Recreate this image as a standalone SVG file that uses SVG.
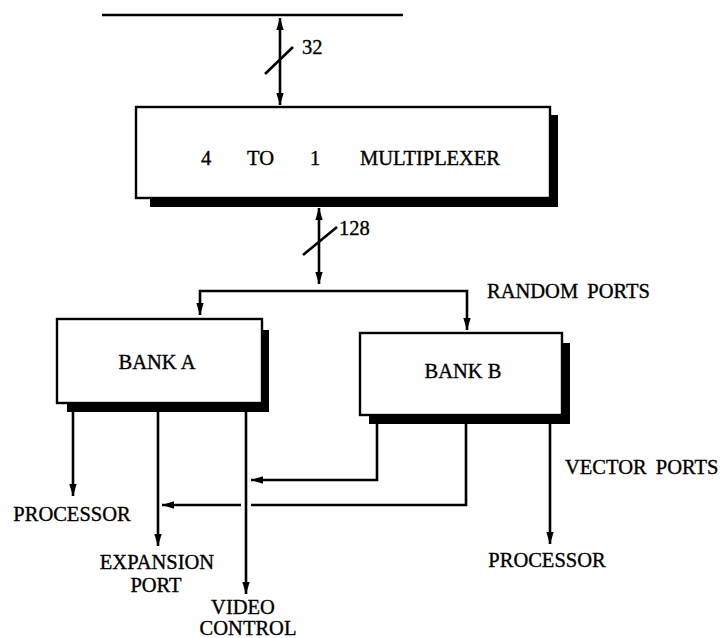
<svg xmlns="http://www.w3.org/2000/svg" width="723" height="638" viewBox="0 0 723 638">
<style>
text{font-family:"Liberation Serif","Times New Roman",serif;font-size:20.5px;fill:#000;stroke:#000;stroke-width:0.35}
.ln{stroke:#000;stroke-width:2.6;fill:none}
.box{fill:#fff;stroke:#000;stroke-width:2.4}
.sh{fill:#000}
</style>
<defs>
<marker id="ah" viewBox="0 0 12 10" refX="12" refY="5" markerWidth="12" markerHeight="10" markerUnits="userSpaceOnUse" orient="auto-start-reverse">
<path d="M0,1.3 L12,5 L0,8.7 z" fill="#000"/>
</marker>
</defs>
<rect width="723" height="638" fill="#fff"/>
<line x1="102" y1="15" x2="403" y2="15" class="ln" stroke-width="3"/>
<g id="mux">
<rect class="sh" x="150" y="115" width="408" height="92"/>
<rect class="box" x="136" y="107" width="414" height="91"/>
<text x="201" y="165">4</text>
<text x="247" y="165">TO</text>
<text x="310" y="165">1</text>
<text x="360" y="165" textLength="140">MULTIPLEXER</text>
</g>
<g id="bankA">
<rect class="sh" x="67" y="330" width="202" height="82"/>
<rect class="box" x="57" y="319" width="205" height="84"/>
<text x="157" y="369" text-anchor="middle">BANK A</text>
</g>
<g id="bankB">
<rect class="sh" x="369" y="343" width="201" height="81"/>
<rect class="box" x="360" y="333" width="202" height="82"/>
<text x="463" y="378" text-anchor="middle">BANK B</text>
</g>
<g id="connectors">
<line class="ln" x1="280" y1="18" x2="280" y2="105" marker-start="url(#ah)" marker-end="url(#ah)"/>
<line class="ln" x1="265" y1="74" x2="293" y2="47"/>
<line class="ln" x1="319" y1="208" x2="319" y2="284" marker-start="url(#ah)" marker-end="url(#ah)"/>
<line class="ln" x1="303" y1="255" x2="337" y2="227"/>
<polyline class="ln" points="200,315 200,291 467,291 467,330" marker-start="url(#ah)" marker-end="url(#ah)"/>
<line class="ln" x1="73" y1="412" x2="73" y2="496" marker-end="url(#ah)"/>
<line class="ln" x1="158" y1="412" x2="158" y2="546" marker-end="url(#ah)"/>
<line class="ln" x1="246" y1="412" x2="246" y2="594" marker-end="url(#ah)"/>
<polyline class="ln" points="377,424 377,480 251,480" marker-end="url(#ah)"/>
<polyline class="ln" points="466,424 466,505 251,505"/>
<line class="ln" x1="241" y1="505" x2="162" y2="505" marker-end="url(#ah)"/>
<line class="ln" x1="550" y1="424" x2="550" y2="544" marker-end="url(#ah)"/>
</g>
<g id="labels">
<text x="302" y="54">32</text>
<text x="339" y="235">128</text>
<text x="487" y="298" word-spacing="4">RANDOM PORTS</text>
<text x="565" y="474" word-spacing="4">VECTOR PORTS</text>
<text x="72" y="521" text-anchor="middle">PROCESSOR</text>
<text x="157" y="569" text-anchor="middle">EXPANSION</text>
<text x="156" y="592" text-anchor="middle">PORT</text>
<text x="243" y="614" text-anchor="middle">VIDEO</text>
<text x="248" y="635" text-anchor="middle">CONTROL</text>
<text x="547" y="567" text-anchor="middle">PROCESSOR</text>
</g>
</svg>
